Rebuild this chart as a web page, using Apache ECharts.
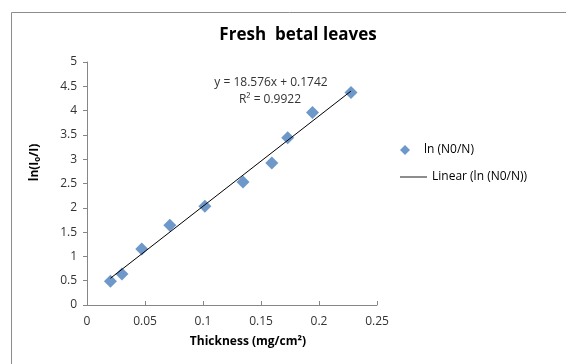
<!DOCTYPE html>
<html>
<head>
<meta charset="utf-8">
<script src="https://cdn.jsdelivr.net/npm/echarts@6/dist/echarts.min.js"></script>
<style>
  html, body { margin: 0; padding: 0; background: #fff; }
  #main { width: 566px; height: 364px; }
</style>
</head>
<body>
<div id="main"></div>
<script>
// measured points: thickness (mg/cm2) and ln(I0/I)
var thickness = [0.0202, 0.0301, 0.0472, 0.0714, 0.1016, 0.1345, 0.1593, 0.173, 0.1944, 0.2276];
var lnRatio   = [0.49, 0.64, 1.15, 1.64, 2.03, 2.53, 2.92, 3.44, 3.96, 4.37];
var xTicks = [0, 0.05, 0.1, 0.15, 0.2, 0.25];
var yTicks = [0, 0.5, 1, 1.5, 2, 2.5, 3, 3.5, 4, 4.5, 5];
var slope = 18.576, intercept = 0.1742, rSquared = 0.9922;

var chart = echarts.init(document.getElementById('main'));
var font = '"Open Sans", Lato, sans-serif';

var points = thickness.map(function (x, i) { return [x, lnRatio[i]]; });
var xMin = thickness[0], xMax = thickness[thickness.length - 1];
var trend = [[xMin, slope * xMin + intercept], [xMax, slope * xMax + intercept]];

var legendText = { fontSize: 12, color: '#000', fontFamily: font };

var option = {
  backgroundColor: '#fff',
  animation: false,
  textStyle: { fontFamily: font },
  title: {
    text: 'Fresh  betal leaves',
    left: 293, top: 22, textAlign: 'center',
    textStyle: { fontSize: 17, fontWeight: 'bold', color: '#000', fontFamily: font }
  },
  grid: { left: 87, right: 189, top: 62, bottom: 59, containLabel: false, outerBoundsMode: 'none' },
  legend: [
    {
      left: 400, top: 144, padding: 0,
      itemWidth: 28, itemHeight: 10,
      textStyle: legendText,
      data: [{ name: 'ln (N0/N)', icon: 'path://M5,0L10,5L5,10L0,5Z' }]
    },
    {
      left: 400, top: 171, padding: 0,
      itemWidth: 27, itemHeight: 10,
      textStyle: legendText,
      data: [{ name: 'Linear (ln (N0/N))', icon: 'path://M0,0L30,0L30,1L0,1Z' }]
    }
  ],
  xAxis: {
    type: 'value',
    min: 0, max: xTicks[xTicks.length - 1], interval: 0.05,
    name: 'Thickness (mg/cm²)',
    nameLocation: 'middle', nameGap: 31,
    nameTextStyle: { fontSize: 12, fontWeight: 'bold', color: '#000', padding: [0, 0, 0, 32] },
    axisLine: { onZero: false, lineStyle: { color: '#868686' } },
    axisTick: { inside: true, length: 4, lineStyle: { color: '#868686' } },
    axisLabel: { fontSize: 12, color: '#333', margin: 11,
      formatter: function (v) { return xTicks.indexOf(+v.toFixed(2)) >= 0 ? String(+v.toFixed(2)) : ''; } },
    splitLine: { show: false }
  },
  yAxis: {
    type: 'value',
    min: 0, max: yTicks[yTicks.length - 1], interval: 0.5,
    name: 'ln(I{sub|o}/I)',
    nameLocation: 'middle', nameGap: 45, nameRotate: 90,
    nameTextStyle: {
      fontSize: 12, fontWeight: 'bold', color: '#000', padding: [0, 0, 0, 42],
      rich: { sub: { fontSize: 8, fontWeight: 'bold', color: '#000', verticalAlign: 'bottom', padding: [6, 0, 0, 0] } }
    },
    axisLine: { show: true, lineStyle: { color: '#868686' } },
    axisTick: { show: true, length: 4, lineStyle: { color: '#868686' } },
    axisLabel: { fontSize: 12, color: '#333', margin: 10 },
    splitLine: { show: false }
  },
  graphic: [
    { type: 'rect', left: 9, top: 10, shape: { width: 600, height: 400 },
      style: { fill: 'none', stroke: '#8c8c8c', lineWidth: 1 }, silent: true },
    { type: 'text', x: 271, y: 83,
      style: { text: 'y = ' + slope + 'x + ' + intercept, fontSize: 12, fill: '#333', fontFamily: font,
        textAlign: 'center', textVerticalAlign: 'middle' } },
    { type: 'text', x: 270, y: 100,
      style: { text: 'R² = ' + rSquared, fontSize: 12, fill: '#333', fontFamily: font,
        textAlign: 'center', textVerticalAlign: 'middle' } }
  ],
  series: [
    {
      name: 'Linear (ln (N0/N))',
      type: 'line',
      data: trend,
      symbol: 'none',
      lineStyle: { color: '#000', width: 1 },
      itemStyle: { color: '#000' },
      z: 3
    },
    {
      name: 'ln (N0/N)',
      type: 'scatter',
      data: points,
      symbol: 'diamond',
      symbolSize: 13,
      itemStyle: { color: '#4a7ebb' },
      z: 2
    }
  ]
};

chart.setOption(option);
</script>
</body>
</html>
